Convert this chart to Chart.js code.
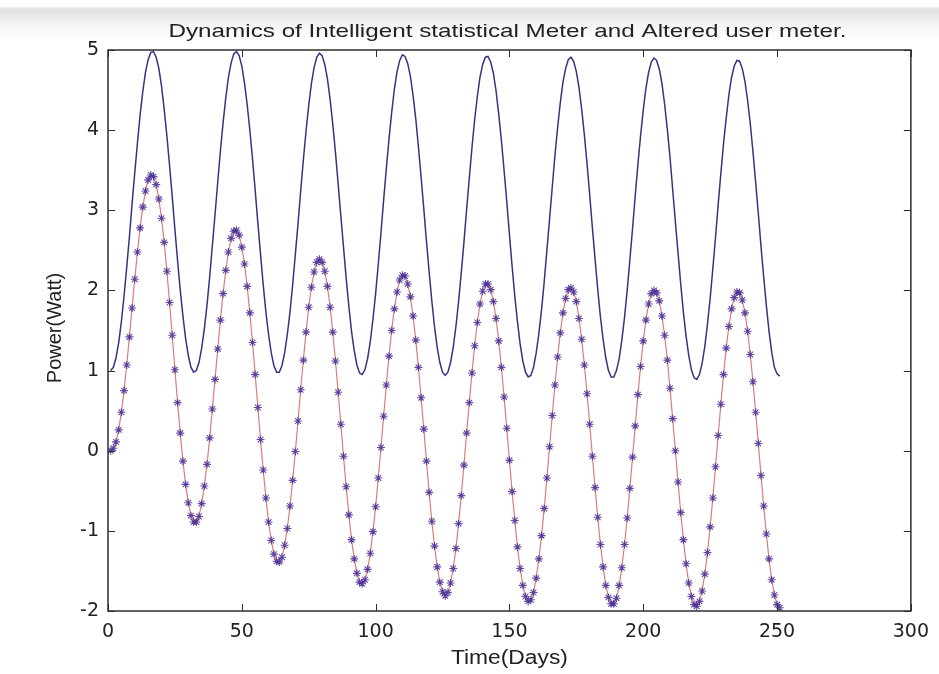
<!DOCTYPE html>
<html>
<head>
<meta charset="utf-8">
<script src="https://cdn.jsdelivr.net/npm/chart.js@4.4.1/dist/chart.umd.min.js"></script>
<style>
  html, body { margin: 0; padding: 0; }
  body {
    width: 939px; height: 674px; overflow: hidden;
    background: linear-gradient(to bottom, #ffffff 0px, #ffffff 6px, #e2e2e2 9px, #f3f3f3 24px, #ffffff 40px);
  }
  canvas { display: block; }
</style>
</head>
<body>
<canvas id="myChart" width="939" height="674"></canvas>
<script>
// x axis: one sample per day
var days = Array.from({ length: 251 }, function (_, i) { return i + 1; });

// upper curve
var statisticalMeter = [
  1.00, 1.04, 1.16, 1.35, 1.61, 1.93, 2.29, 2.67, 3.08, 3.47,
  3.84, 4.19, 4.48, 4.72, 4.88, 4.97, 4.98, 4.91, 4.77, 4.55,
  4.26, 3.93, 3.56, 3.17, 2.76, 2.37, 2.00, 1.68, 1.40, 1.19,
  1.04, 0.98, 1.00, 1.10, 1.28, 1.52, 1.82, 2.17, 2.56, 2.95,
  3.35, 3.74, 4.09, 4.40, 4.66, 4.84, 4.95, 4.98, 4.93, 4.80,
  4.59, 4.32, 4.00, 3.64, 3.25, 2.84, 2.45, 2.07, 1.73, 1.45,
  1.22, 1.06, 0.98, 0.98, 1.06, 1.22, 1.45, 1.73, 2.07, 2.45,
  2.83, 3.24, 3.63, 3.99, 4.31, 4.58, 4.78, 4.91, 4.96, 4.93,
  4.82, 4.64, 4.38, 4.07, 3.72, 3.33, 2.93, 2.54, 2.15, 1.80,
  1.49, 1.25, 1.07, 0.97, 0.95, 1.01, 1.15, 1.36, 1.64, 1.96,
  2.33, 2.72, 3.13, 3.52, 3.89, 4.22, 4.51, 4.73, 4.87, 4.94,
  4.92, 4.83, 4.67, 4.43, 4.14, 3.79, 3.41, 3.02, 2.61, 2.23,
  1.87, 1.55, 1.29, 1.10, 0.98, 0.94, 0.98, 1.10, 1.29, 1.55,
  1.86, 2.22, 2.60, 3.01, 3.40, 3.78, 4.13, 4.42, 4.66, 4.82,
  4.91, 4.92, 4.85, 4.71, 4.49, 4.20, 3.87, 3.50, 3.11, 2.70,
  2.30, 1.93, 1.61, 1.33, 1.12, 0.98, 0.92, 0.94, 1.04, 1.22,
  1.46, 1.76, 2.11, 2.50, 2.89, 3.29, 3.68, 4.03, 4.34, 4.60,
  4.77, 4.88, 4.91, 4.86, 4.73, 4.53, 4.26, 3.94, 3.58, 3.19,
  2.78, 2.39, 2.01, 1.67, 1.39, 1.16, 1.00, 0.92, 0.92, 1.00,
  1.15, 1.38, 1.66, 2.00, 2.38, 2.77, 3.18, 3.57, 3.93, 4.25,
  4.52, 4.72, 4.85, 4.90, 4.87, 4.76, 4.58, 4.32, 4.01, 3.66,
  3.26, 2.86, 2.47, 2.08, 1.73, 1.43, 1.19, 1.01, 0.91, 0.89,
  0.95, 1.09, 1.30, 1.58, 1.90, 2.27, 2.66, 3.07, 3.46, 3.83,
  4.15, 4.44, 4.66, 4.80, 4.87, 4.86, 4.77, 4.61, 4.37, 4.08,
  3.73, 3.35, 2.96, 2.55, 2.17, 1.81, 1.49, 1.23, 1.04, 0.96,
  0.93
];

// lower curve with the star markers
var alteredMeter = [
  0.00, 0.03, 0.11, 0.26, 0.48, 0.75, 1.07, 1.42, 1.78, 2.14,
  2.48, 2.78, 3.04, 3.24, 3.38, 3.44, 3.42, 3.32, 3.14, 2.90,
  2.60, 2.24, 1.85, 1.44, 1.01, 0.60, 0.22, -0.13, -0.42, -0.65,
  -0.81, -0.89, -0.89, -0.82, -0.66, -0.44, -0.17, 0.16, 0.52, 0.89,
  1.27, 1.63, 1.96, 2.25, 2.48, 2.65, 2.74, 2.75, 2.69, 2.54,
  2.33, 2.05, 1.72, 1.35, 0.95, 0.54, 0.14, -0.24, -0.59, -0.89,
  -1.12, -1.29, -1.38, -1.39, -1.33, -1.18, -0.97, -0.69, -0.37, -0.01,
  0.37, 0.76, 1.13, 1.48, 1.79, 2.04, 2.23, 2.35, 2.39, 2.35,
  2.24, 2.05, 1.79, 1.48, 1.12, 0.73, 0.33, -0.07, -0.45, -0.80,
  -1.11, -1.35, -1.53, -1.64, -1.66, -1.61, -1.48, -1.28, -1.01, -0.70,
  -0.34, 0.04, 0.43, 0.82, 1.18, 1.50, 1.77, 1.98, 2.13, 2.19,
  2.18, 2.08, 1.92, 1.68, 1.38, 1.04, 0.66, 0.27, -0.13, -0.52,
  -0.88, -1.19, -1.45, -1.64, -1.76, -1.81, -1.77, -1.65, -1.47, -1.22,
  -0.91, -0.56, -0.18, 0.22, 0.60, 0.97, 1.31, 1.60, 1.83, 1.99,
  2.08, 2.08, 2.01, 1.86, 1.65, 1.37, 1.04, 0.67, 0.28, -0.12,
  -0.51, -0.87, -1.20, -1.47, -1.68, -1.82, -1.88, -1.86, -1.77, -1.59,
  -1.35, -1.06, -0.72, -0.34, 0.05, 0.44, 0.82, 1.17, 1.47, 1.72,
  1.90, 2.01, 2.03, 1.98, 1.86, 1.65, 1.39, 1.07, 0.71, 0.33,
  -0.07, -0.46, -0.83, -1.17, -1.45, -1.68, -1.83, -1.91, -1.91, -1.84,
  -1.68, -1.46, -1.17, -0.84, -0.47, -0.08, 0.31, 0.70, 1.05, 1.37,
  1.63, 1.83, 1.96, 2.00, 1.97, 1.87, 1.68, 1.44, 1.13, 0.78,
  0.40, 0.00, -0.39, -0.77, -1.11, -1.41, -1.65, -1.82, -1.92, -1.94,
  -1.88, -1.75, -1.54, -1.27, -0.95, -0.59, -0.20, 0.19, 0.58, 0.95,
  1.28, 1.55, 1.77, 1.91, 1.98, 1.97, 1.88, 1.72, 1.49, 1.20,
  0.86, 0.48, 0.09, -0.31, -0.69, -1.04, -1.35, -1.61, -1.80, -1.92,
  -1.96
];

var xTicks = [0, 50, 100, 150, 200, 250, 300];
var yTicks = [-2, -1, 0, 1, 2, 3, 4, 5];

var titleText = 'Dynamics of Intelligent statistical Meter and Altered user meter.';
var xLabel = 'Time(Days)';
var yLabel = 'Power(Watt)';

var FONT = '"Liberation Sans", Arial, sans-serif';
var TICK_FONT = '"DejaVu Sans", sans-serif';

function toPoints(ys) {
  return ys.map(function (v, i) { return { x: days[i], y: v }; });
}

// text squeezed/stretched sideways to a given width (the source picture is widened)
function wideText(ctx, text, cx, cy, width) {
  var w = ctx.measureText(text).width;
  ctx.save();
  ctx.translate(cx, cy);
  ctx.scale(width / w, 1);
  ctx.fillText(text, 0, 0);
  ctx.restore();
}

// matlab style box, inward ticks on all four sides, plus title and axis names
var matlabFrame = {
  id: 'matlabFrame',
  afterDatasetsDraw: function (chart) {
    var ctx = chart.ctx, a = chart.chartArea;
    var xs = chart.scales.x, ys = chart.scales.y;
    var len = 7;
    ctx.save();
    ctx.strokeStyle = '#2e2e2e';
    ctx.lineWidth = 1;
    ctx.beginPath();
    xTicks.forEach(function (t) {
      var px = Math.round(xs.getPixelForValue(t)) + 0.5;
      ctx.moveTo(px, a.bottom); ctx.lineTo(px, a.bottom - len);
      ctx.moveTo(px, a.top); ctx.lineTo(px, a.top + len);
    });
    yTicks.forEach(function (t) {
      var py = Math.round(ys.getPixelForValue(t)) + 0.5;
      ctx.moveTo(a.left, py); ctx.lineTo(a.left + len, py);
      ctx.moveTo(a.right, py); ctx.lineTo(a.right - len, py);
    });
    ctx.stroke();
    ctx.lineWidth = 1.5;
    ctx.strokeRect(a.left, a.top, a.right - a.left, a.bottom - a.top);
    ctx.restore();
  },
  afterDraw: function (chart) {
    var ctx = chart.ctx, a = chart.chartArea;
    var cx = (a.left + a.right) / 2;
    ctx.save();
    ctx.fillStyle = '#222';
    ctx.textAlign = 'center';
    ctx.textBaseline = 'middle';
    ctx.font = '19px ' + FONT;
    wideText(ctx, titleText, cx - 2, 32, 678);
    ctx.font = '20px ' + FONT;
    wideText(ctx, xLabel, cx, 658, 117);
    ctx.translate(55, 328);
    ctx.rotate(-Math.PI / 2);
    ctx.fillText(yLabel, 0, 0);
    ctx.restore();
  }
};

var ctx = document.getElementById('myChart').getContext('2d');
var chart = new Chart(ctx, {
  type: 'line',
  data: {
    datasets: [{
      label: 'Intelligent statistical Meter',
      data: toPoints(statisticalMeter),
      borderColor: 'rgb(52, 52, 130)',
      borderWidth: 1.5,
      pointRadius: 0,
      tension: 0
    }, {
      label: 'Altered user meter',
      data: toPoints(alteredMeter),
      borderColor: 'rgba(215, 100, 100, 0.85)',
      borderWidth: 1.2,
      pointStyle: 'star',
      pointRadius: 4,
      pointBorderWidth: 1.1,
      pointBorderColor: 'rgba(70, 45, 150, 0.85)',
      pointBackgroundColor: 'rgba(70, 45, 150, 0.85)',
      tension: 0
    }]
  },
  options: {
    responsive: false,
    animation: false,
    devicePixelRatio: 1,
    layout: { padding: { top: 50, right: 24, left: 0, bottom: 0 } },
    plugins: {
      legend: { display: false },
      tooltip: { enabled: false },
      title: { display: false }
    },
    scales: {
      x: {
        type: 'linear',
        min: 0,
        max: 300,
        afterFit: function (s) { s.height = 63; },
        afterBuildTicks: function (s) { s.ticks = xTicks.map(function (v) { return { value: v }; }); },
        grid: { display: false, drawTicks: false },
        border: { display: false },
        ticks: { color: '#222', padding: 10, maxRotation: 0, font: { family: TICK_FONT, size: 19 } }
      },
      y: {
        min: -2,
        max: 5,
        afterFit: function (s) { s.width = 108; },
        afterBuildTicks: function (s) { s.ticks = yTicks.map(function (v) { return { value: v }; }); },
        grid: { display: false, drawTicks: false },
        border: { display: false },
        ticks: { color: '#222', padding: 9, font: { family: TICK_FONT, size: 19 } }
      }
    }
  },
  plugins: [matlabFrame]
});
</script>
</body>
</html>
